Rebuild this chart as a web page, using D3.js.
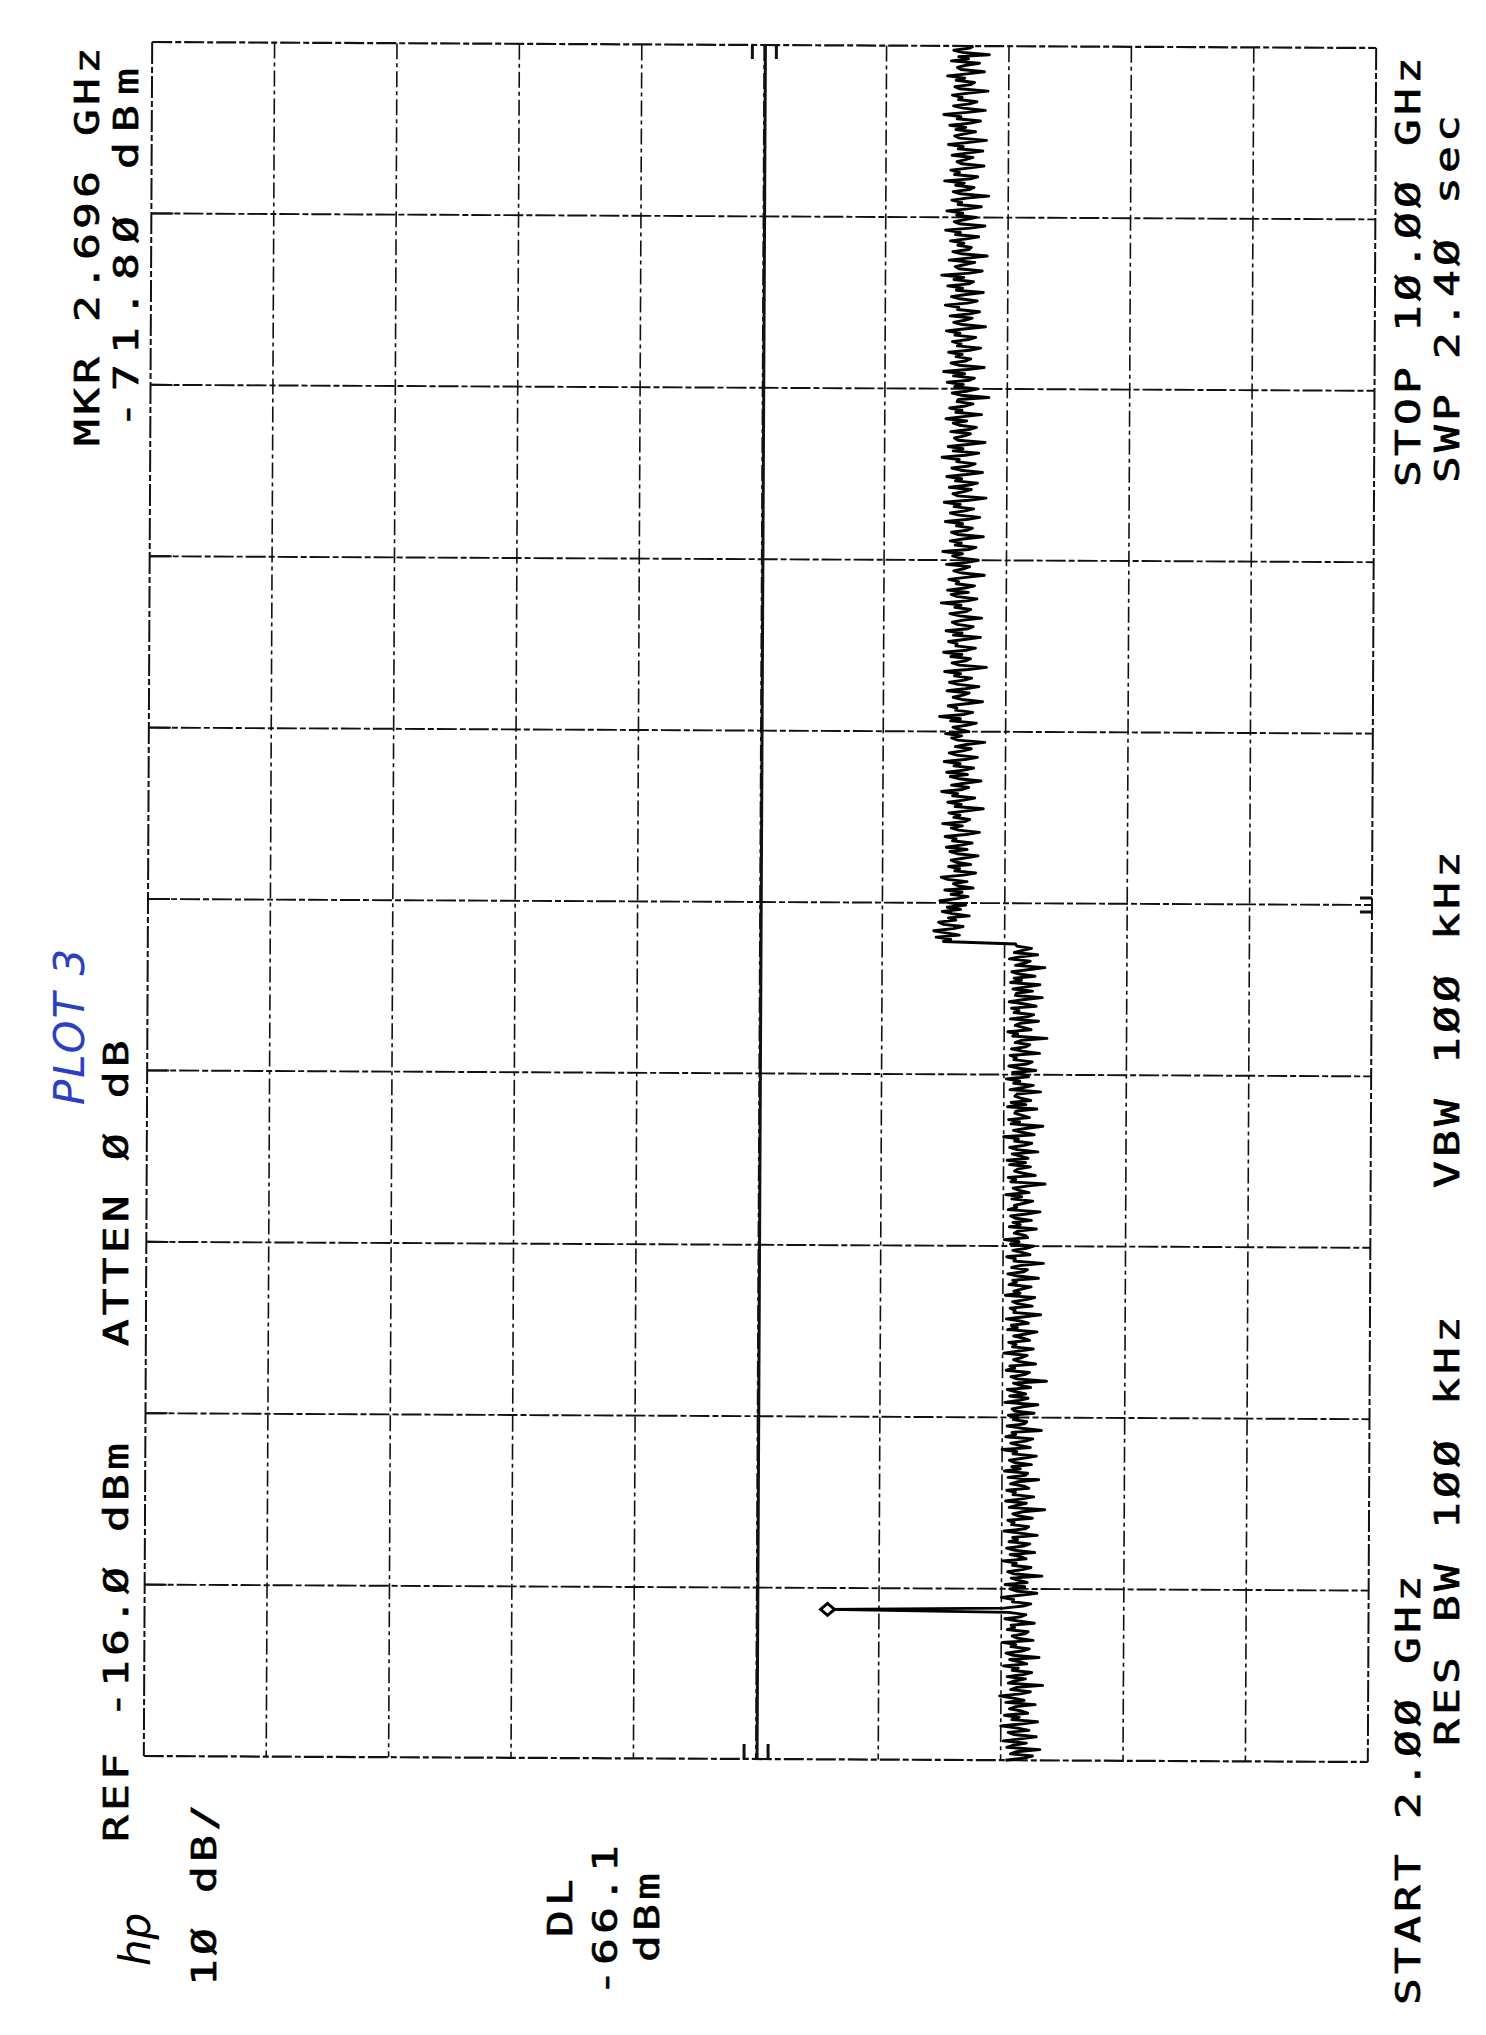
<!DOCTYPE html>
<html>
<head>
<meta charset="utf-8">
<script src="https://cdn.jsdelivr.net/npm/d3@7"></script>
<style>
  html, body { margin: 0; padding: 0; background: #ffffff; }
  svg { display: block; }
</style>
</head>
<body>
<div id="chart"></div>
<script>
// ---- Instrument settings (HP spectrum analyzer plot) ----
const startGHz = 2.0;
const stopGHz = 10.0;
const refLevel = -16.0;       // dBm
const dbPerDiv = 10;
const displayLine = -66.1;    // dBm
const markerFreq = 2.696;     // GHz
const markerLevel = -71.8;    // dBm
const markerIndex = 70;       // sweep point of the marker

// Trace amplitude (dBm), sweep points every 10 MHz from START (2.00 GHz)
const lowBand = [
 -86.4,-87.9,-88.6,-86.8,-87.3,-89.2,-86.5,-87.0,-88.1,-86.2,-87.6,-88.9,-87.1,-86.6,-88.3,-87.4,-86.0,-87.8,-89.0,-86.9,
 -87.5,-86.3,-88.2,-87.7,-86.7,-87.2,-88.8,-86.4,-87.9,-87.0,-85.9,-87.6,-88.4,-86.8,-87.3,-89.4,-86.6,-87.1,-88.0,-86.5,
 -87.8,-88.5,-86.9,-87.4,-86.2,-88.1,-87.5,-86.7,-89.1,-87.0,-86.4,-87.7,-88.3,-86.8,-87.2,-86.1,-88.6,-87.3,-86.9,-87.9,
 -88.2,-86.5,-87.1,-86.8,-88.7,-87.4,-86.3,-87.6,-88.0,-86.6,-71.8,-86.2,-87.8,-88.4,-86.9,-87.0,-86.0,-87.5,-88.9,-87.2,
 -86.7,-87.9,-86.3,-88.1,-87.4,-86.8,-89.3,-87.0,-86.5,-87.7,-88.4,-86.9,-87.2,-86.1,-88.0,-87.6,-86.7,-88.7,-87.1,-86.4,
 -87.8,-88.3,-86.6,-87.3,-86.9,-88.9,-87.5,-86.2,-87.9,-88.2,-86.8,-87.0,-86.5,-88.5,-87.4,-86.9,-87.7,-89.5,-86.6,-87.2,
 -88.0,-86.3,-87.6,-88.6,-86.9,-87.1,-86.4,-88.2,-87.8,-86.7,-87.3,-89.0,-86.5,-87.9,-88.1,-86.2,-87.5,-86.8,-88.4,-87.0,
 -86.6,-87.7,-88.8,-86.9,-87.2,-86.0,-88.3,-87.4,-86.7,-87.9,-88.5,-86.3,-87.1,-86.8,-89.2,-87.6,-86.4,-87.8,-88.0,-86.9,
 -87.3,-86.5,-88.6,-87.0,-86.8,-87.7,-88.9,-86.2,-87.4,-88.1,-86.6,-87.9,-87.1,-86.4,-88.3,-87.5,-86.9,-89.6,-87.2,-86.7,
 -87.8,-88.2,-86.3,-87.0,-86.6,-88.7,-87.4,-86.9,-87.6,-88.0,-86.1,-87.3,-88.5,-86.8,-87.1,-86.5,-88.2,-87.7,-86.9,-87.9,
 -88.8,-86.4,-87.2,-86.7,-88.1,-87.5,-86.3,-87.8,-89.1,-86.9,-87.0,-86.6,-88.4,-87.3,-86.8,-87.9,-88.6,-86.2,-87.4,-86.9,
 -87.6,-88.3,-86.5,-87.1,-86.8,-88.9,-87.2,-86.4,-87.7,-88.0,-86.7,-87.5,-89.3,-86.9,-87.0,-86.3,-88.2,-87.6,-86.8,-87.9,
 -88.5,-86.6,-87.3,-86.1,-88.0,-87.8,-86.9,-87.2,-88.7,-86.5,-87.4,-86.8,-88.3,-87.0,-86.6,-87.9,-89.0,-86.4,-87.1,-86.9,
 -87.7,-88.4,-86.7,-87.5,-86.2,-88.1,-87.3,-86.8,-87.9,-89.4,-86.6,-87.0,-86.4,-88.6,-87.6,-86.9,-87.2,-88.2,-86.5,-87.8,
 -86.3,-88.0,-87.4,-86.7,-88.8,-87.1,-86.5,-87.7,-88.3,-86.9,-87.2,-86.0,-88.5,-87.6,-86.8,-87.9,-89.2,-86.6,-87.3,-86.4,
 -88.1,-87.5,-86.9,-87.0,-88.7,-86.3,-87.8,-86.6,-88.2,-87.4,-86.9,-87.1,-89.0,-86.5,-87.6,-88.4,-86.8,-87.3,-86.2,-88.0,
 -87.7,-86.7,-88.6,-87.2,-86.4,-87.9,-88.3,-86.8,-87.0,-86.5,-88.9,-87.5,-86.6,-87.8,-88.1,-86.9,-87.4,-89.5,-86.7,-87.1,
 -86.3,-88.2,-87.6,-86.9,-87.3,-88.8,-86.5,-87.9,-88.4,-86.8,-87.2,-86.6,-88.6,-87.7,-86.4,-87.5,-89.1,-86.9,-87.0,-88.3,
 -86.7,-87.8,-88.9,-86.5,-87.4,-86.8,-88.5,-87.2,-86.6,-87.9,-89.3,-86.9,-87.6,-88.1,-86.4,-87.3,-88.7,-86.8,-87.5,-88.2,
 -87.0,-86.9
];
const highBand = [
 -81.0,-81.6,-80.4,-82.3,-81.2,-80.2,-81.8,-82.6,-81.0,-80.6,-82.0,-81.4,-83.1,-81.7,-80.9,-82.4,-81.3,-82.8,-81.5,-80.7,
 -82.1,-83.0,-81.6,-82.5,-81.1,-83.4,-82.2,-81.8,-82.9,-81.3,-80.8,-82.6,-83.6,-81.9,-82.3,-81.4,-83.2,-82.0,-81.6,-82.7,
 -83.8,-82.1,-81.5,-82.9,-81.2,-82.4,-83.3,-81.7,-82.0,-81.1,-82.8,-83.9,-82.2,-81.6,-82.5,-80.9,-82.7,-83.1,-81.8,-82.3,
 -81.4,-82.9,-84.2,-81.9,-82.4,-81.3,-82.6,-83.5,-81.7,-82.1,-80.8,-82.5,-83.0,-81.6,-82.8,-84.0,-82.2,-81.5,-82.9,-81.2,
 -82.6,-83.4,-81.8,-82.3,-81.0,-82.7,-83.7,-82.0,-81.4,-82.5,-83.2,-81.9,-82.8,-84.3,-82.1,-81.6,-82.4,-81.1,-83.0,-82.2,
 -81.7,-82.9,-83.6,-81.5,-82.3,-80.6,-82.6,-83.3,-81.9,-82.0,-81.3,-82.8,-84.1,-82.4,-81.7,-82.5,-83.0,-81.2,-82.7,-83.8,
 -82.1,-81.4,-82.6,-83.2,-81.8,-82.3,-81.0,-82.9,-84.4,-82.2,-81.6,-82.7,-83.1,-81.5,-82.4,-80.9,-82.8,-83.5,-81.9,-82.0,
 -81.3,-82.6,-83.9,-81.7,-82.4,-81.1,-82.9,-83.3,-82.0,-81.6,-82.5,-84.0,-82.2,-81.4,-82.7,-83.1,-81.8,-82.3,-80.7,-82.8,
 -83.6,-82.0,-81.5,-82.9,-81.2,-82.6,-83.4,-81.9,-82.1,-81.3,-82.7,-84.2,-82.4,-81.7,-82.5,-83.0,-81.1,-82.8,-83.7,-82.2,
 -81.6,-82.4,-80.8,-82.9,-83.5,-81.8,-82.3,-81.4,-82.6,-84.1,-82.0,-81.5,-82.8,-83.2,-81.9,-82.4,-81.0,-82.7,-83.8,-82.1,
 -81.4,-82.6,-83.3,-81.7,-82.2,-80.9,-82.9,-84.3,-82.0,-81.6,-82.5,-83.1,-81.3,-82.8,-83.6,-81.8,-82.3,-81.1,-82.7,-84.0,
 -82.2,-81.5,-82.9,-83.4,-81.9,-82.1,-80.7,-82.6,-83.7,-81.6,-82.4,-81.2,-82.8,-84.2,-82.0,-81.7,-82.5,-83.0,-81.4,-82.9,
 -83.5,-82.1,-81.6,-82.7,-81.0,-82.4,-83.9,-81.8,-82.3,-81.3,-82.6,-83.2,-81.9,-82.0,-84.5,-82.2,-81.5,-82.8,-83.6,-81.7,
 -82.4,-81.1,-82.9,-83.3,-81.6,-82.5,-80.8,-82.7,-84.1,-82.0,-81.4,-82.6,-83.0,-81.8,-82.3,-81.2,-82.9,-83.8,-81.9,-82.2,
 -81.5,-82.8,-83.4,-81.7,-82.1,-81.0,-82.6,-84.2,-82.3,-81.6,-82.5,-83.1,-81.3,-82.9,-83.7,-81.9,-82.0,-80.9,-82.7,-83.5,
 -82.1,-81.4,-82.6,-84.0,-81.8,-82.3,-81.1,-82.8,-83.2,-81.6,-82.4,-80.6,-82.9,-83.9,-82.0,-81.7,-82.5,-83.3,-81.2,-82.7,
 -84.3,-82.2,-81.5,-82.8,-83.0,-81.9,-82.4,-81.3,-82.6,-83.6,-81.7,-82.1,-80.9,-82.9,-84.1,-82.0,-81.6,-82.5,-83.4,-81.8,
 -82.3,-81.0,-82.7,-83.8,-81.9,-82.2,-81.4,-82.6,-84.4,-82.1,-81.5,-82.8,-83.2,-81.7,-82.4,-80.8,-82.9,-83.5,-81.6,-82.0,
 -81.3,-82.7,-84.0,-82.2,-81.8,-82.5,-83.1,-81.4,-82.6,-83.9,-81.9,-82.3,-81.1,-82.8,-84.2,-82.0,-81.6,-82.4,-83.3,-81.7,
 -82.5,-81.2,-82.9,-83.7,-81.8,-82.1,-80.7,-82.6,-84.1,-82.3,-81.5,-82.8,-83.4,-81.9,-82.2,-81.4,-82.7,-84.3,-82.0,-81.6,
 -82.9,-83.2,-81.7,-82.4,-81.0,-82.6,-84.0,-82.1,-81.8,-82.5,-83.6,-81.3,-82.7,-81.9,-84.4,-82.2,-81.5,-82.8,-83.1
];

// Annotation texts (plotter font prints zero as Ø)
const labelMkr1 = "MKR 2.696 GHz";
const labelMkr2 = "-71.8Ø dBm";
const labelRef = "REF -16.Ø dBm   ATTEN Ø dB";
const labelScale = "1Ø dB/";
const labelDL = ["DL", "-66.1", "dBm"];
const labelStart = "START 2.ØØ GHz";
const labelRbw = "RES BW 1ØØ kHz";
const labelVbw = "VBW 1ØØ kHz";
const labelStop = "STOP 1Ø.ØØ GHz";
const labelSwp = "SWP 2.4Ø sec";
const labelNote = "PLOT 3";

// ---- Drawing ----
const W = 1486, H = 2035;
const svg = d3.select("#chart").append("svg").attr("width", W).attr("height", H);
svg.append("rect").attr("width", W).attr("height", H).attr("fill", "#ffffff");

const root = svg.append("g");
// the scanned sheet is slightly rotated
const g = root.append("g").attr("transform", "rotate(0.28,760,902)");

// Rotated plot: amplitude runs left->right (REF at left), frequency runs bottom->top
const amp = d3.scaleLinear().domain([refLevel, refLevel - 10 * dbPerDiv]).range([148, 1372]);
const freq = d3.scaleLinear().domain([startGHz, stopGHz]).range([1759, 45]);

const trace = lowBand.concat(highBand);
const idx = d3.scaleLinear().domain([0, trace.length - 1]).range([startGHz, stopGHz]);

const ampTicks = d3.range(0, 11).map(i => refLevel - i * dbPerDiv);
const freqTicks = d3.range(0, 11).map(i => startGHz + i * (stopGHz - startGHz) / 10);

const ink = "#111";

// grid: vertical lines (amplitude divisions)
g.append("g").selectAll("line").data(ampTicks).join("line")
  .attr("x1", d => amp(d)).attr("x2", d => amp(d))
  .attr("y1", freq(stopGHz)).attr("y2", freq(startGHz))
  .attr("stroke", ink)
  .attr("stroke-width", (d, i) => (i === 0 || i === 10) ? 2 : 1.6)
  .attr("stroke-dasharray", (d, i) => (i === 0 || i === 10) ? "22,3,6,3" : "16,4,4,4");

// grid: horizontal lines (frequency divisions)
g.append("g").selectAll("line").data(freqTicks).join("line")
  .attr("x1", amp(refLevel)).attr("x2", amp(refLevel - 100))
  .attr("y1", d => freq(d)).attr("y2", d => freq(d))
  .attr("stroke", ink)
  .attr("stroke-width", (d, i) => (i === 0 || i === 10) ? 2.2 : 1.9)
  .attr("stroke-dasharray", "20,3,6,3");

// small solid starts of horizontal lines at left frame
g.append("g").selectAll("line").data(freqTicks.slice(1, 10)).join("line")
  .attr("x1", amp(refLevel)).attr("x2", amp(refLevel) + 22)
  .attr("y1", d => freq(d)).attr("y2", d => freq(d))
  .attr("stroke", ink).attr("stroke-width", 2);

// display line
const xDL = amp(displayLine);
g.append("line")
  .attr("x1", xDL).attr("x2", xDL).attr("y1", freq(stopGHz)).attr("y2", freq(startGHz))
  .attr("stroke", ink).attr("stroke-width", 3);
[-13, 11].forEach(off => {
  g.append("line").attr("x1", xDL + off).attr("x2", xDL + off)
    .attr("y1", freq(stopGHz)).attr("y2", freq(stopGHz) + 14)
    .attr("stroke", ink).attr("stroke-width", 3);
  g.append("line").attr("x1", xDL + off).attr("x2", xDL + off)
    .attr("y1", freq(startGHz)).attr("y2", freq(startGHz) - 15)
    .attr("stroke", ink).attr("stroke-width", 3);
});
// center frequency marks on the right edge
const yC = freq((startGHz + stopGHz) / 2);
[-7, 7].forEach(off => {
  g.append("line").attr("x1", amp(refLevel - 100) - 12).attr("x2", amp(refLevel - 100))
    .attr("y1", yC + off).attr("y2", yC + off)
    .attr("stroke", ink).attr("stroke-width", 3);
});

// trace
const line = d3.line()
  .x(d => amp(d))
  .y((d, i) => freq(idx(i)));
g.append("path").datum(trace)
  .attr("d", line)
  .attr("fill", "none")
  .attr("stroke", "#000")
  .attr("stroke-width", 2.9)
  .attr("stroke-linejoin", "round");

// marker diamond
const mx = amp(markerLevel), my = freq(idx(markerIndex));
g.append("path")
  .attr("d", `M${mx - 7},${my} L${mx},${my - 6} L${mx + 7},${my} L${mx},${my + 6} Z`)
  .attr("fill", "#fff").attr("stroke", "#000").attr("stroke-width", 3);

// ---- Text ----
const fontFam = "'DejaVu Sans Mono', 'Liberation Mono', monospace";
const stretch = 1.35;
function vtext(x, y, str, pitch = 31) {
  const size = 33;
  const adv = 0.602 * size;
  const ls = pitch / stretch - adv;
  return root.append("text")
    .attr("transform", `translate(${x},${y}) rotate(-90) scale(${stretch},1)`)
    .attr("font-family", fontFam)
    .attr("font-size", size)
    .attr("letter-spacing", ls)
    .attr("fill", "#000")
    .attr("stroke", "#000")
    .attr("stroke-width", 0.7)
    .style("white-space", "pre")
    .text(str);
}

vtext(99, 446, labelMkr1);
vtext(138, 428, labelMkr2, 37);
vtext(128, 1842, labelRef);
vtext(216, 1986, labelScale);
vtext(572, 1937, labelDL[0]);
vtext(617, 1996, labelDL[1]);
vtext(659, 1962, labelDL[2]);
vtext(1420, 2005, labelStart);
vtext(1459, 1746, labelRbw);
vtext(1459, 1188, labelVbw);
vtext(1420, 487, labelStop);
vtext(1459, 483, labelSwp);

// hp logo
root.append("text")
  .attr("transform", "translate(150,1966) rotate(-90)")
  .attr("font-family", "'DejaVu Sans', sans-serif")
  .attr("font-size", 42).attr("font-style", "italic").attr("font-weight", 200)
  .attr("fill", "#000").text("hp");

// handwritten note
root.append("text")
  .attr("transform", "translate(84,1105) rotate(-90)")
  .attr("font-family", "'DejaVu Sans', sans-serif")
  .attr("font-size", 42).attr("font-style", "italic").attr("font-weight", 200)
  .attr("letter-spacing", 2)
  .attr("fill", "#2b3fc4").text(labelNote);
</script>
</body>
</html>
